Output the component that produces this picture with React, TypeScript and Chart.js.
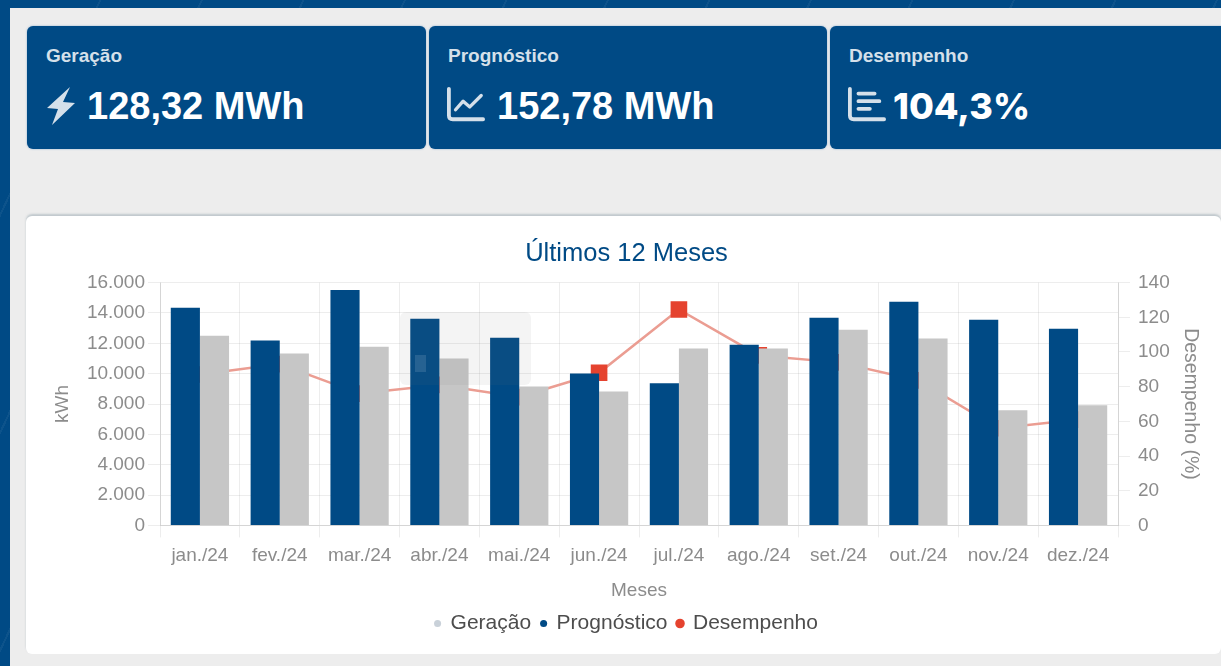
import React, { useEffect, useRef } from "react";
import { Chart, registerables } from "chart.js";

Chart.register(...registerables);

const categories = ["jan./24", "fev./24", "mar./24", "abr./24", "mai./24", "jun./24", "jul./24", "ago./24", "set./24", "out./24", "nov./24", "dez./24"];
const geracao = [12500, 11320, 11780, 11000, 9160, 8830, 11650, 11650, 12900, 12310, 7590, 7910];
const prognostico = [14340, 12180, 15520, 13620, 12370, 10010, 9360, 11900, 13680, 14730, 13550, 12960];
const desempenho = [87, 93, 76, 81, 74, 88, 124.5, 98, 94, 83.6, 56, 61];
const cards = [
  { label: "Geração", value: "128,32 MWh", icon: "bolt" },
  { label: "Prognóstico", value: "152,78 MWh", icon: "line" },
  { label: "Desempenho", value: "104,3%", icon: "bars" },
];

const BLUE = "#004a85";
const GREY = "#c6c6c6";
const RED = "#e5432f";
const TICK = "#8c8c8c";
const SANS = "'Liberation Sans', Arial, sans-serif";

function Icon({ kind }: { kind: string }) {
  const c = "#d5e0ea";
  if (kind === "bolt") {
    return (
      <svg width="32" height="40" viewBox="0 0 32 40" style={{ display: "block" }}>
        <path d="M25 1 L2 22 L13 23 L7 39 L30 17 L18 16 Z" fill={c} />
      </svg>
    );
  }
  if (kind === "line") {
    return (
      <svg width="38" height="38" viewBox="0 0 40 38" style={{ display: "block" }}>
        <path d="M2 2 V30 Q2 34 6 34 H38" fill="none" stroke={c} strokeWidth="4" strokeLinecap="round" />
        <path d="M9 24 L17 15 L24 21 L36 9" fill="none" stroke={c} strokeWidth="3.5" strokeLinecap="round" strokeLinejoin="round" />
      </svg>
    );
  }
  return (
    <svg width="38" height="38" viewBox="0 0 40 38" style={{ display: "block" }}>
      <path d="M2 2 V30 Q2 34 6 34 H38" fill="none" stroke={c} strokeWidth="4" strokeLinecap="round" />
      <path d="M11 7 H28 M11 15 H33 M11 23 H23" fill="none" stroke={c} strokeWidth="4" strokeLinecap="round" />
    </svg>
  );
}

export default function App() {
  const ref = useRef<HTMLCanvasElement | null>(null);

  useEffect(() => {
    document.body.style.margin = "0";
    const chart = new Chart(ref.current!, {
      type: "bar",
      data: {
        labels: categories,
        datasets: [
          { label: "Geração", data: geracao, backgroundColor: GREY, order: 1, yAxisID: "y", categoryPercentage: 0.73, barPercentage: 1 },
          { label: "Prognóstico", data: prognostico, backgroundColor: BLUE, order: 0, yAxisID: "y", categoryPercentage: 0.73, barPercentage: 1 },
          {
            type: "line",
            label: "Desempenho",
            data: desempenho,
            borderColor: "#eb9d92",
            backgroundColor: RED,
            pointBackgroundColor: RED,
            pointBorderColor: RED,
            borderWidth: 2.5,
            pointStyle: "rect",
            pointRadius: 10,
            tension: 0,
            order: 2,
            yAxisID: "y1",
          },
        ] as any,
      },
      options: {
        animation: false,
        responsive: false,
        layout: { padding: { top: 12, bottom: 10, left: 21, right: 15 } },
        plugins: {
          title: { display: true, text: "Últimos 12 Meses", color: BLUE, font: { family: SANS, size: 25.5, weight: "normal" }, padding: { top: 11, bottom: 13 } },
          tooltip: { enabled: false },
          legend: {
            position: "bottom",
            labels: {
              usePointStyle: true,
              pointStyle: "circle",
              boxHeight: 5,
              boxWidth: 5,
              padding: 10,
              color: "#4d4d4d",
              font: { family: SANS, size: 21 },
              generateLabels: (c: any) =>
                Chart.defaults.plugins.legend.labels.generateLabels(c).map((it: any) =>
                  it.text === "Geração" ? { ...it, fillStyle: "#c9d1d9", strokeStyle: "#c9d1d9" } : it
                ),
              sort: (a: any, b: any) => a.datasetIndex - b.datasetIndex,
            },
          },
        },
        scales: {
          x: {
            grid: { color: "rgba(0,0,0,0.07)", tickLength: 12 },
            ticks: { color: TICK, font: { family: SANS, size: 19 }, maxRotation: 0, autoSkip: false, padding: 7 },
            title: { display: true, text: "Meses", color: TICK, font: { family: SANS, size: 19 }, padding: { top: 5, bottom: 1 } },
          },
          y: {
            position: "left",
            min: 0,
            max: 16000,
            grid: { color: "rgba(0,0,0,0.07)", tickLength: 12 },
            ticks: { stepSize: 2000, color: TICK, font: { family: SANS, size: 19 }, callback: (v: any) => Number(v).toLocaleString("pt-BR") },
            title: { display: true, text: "kWh", color: TICK, font: { family: SANS, size: 19 } },
            afterFit: (s: any) => { s.width = 113; },
          },
          y1: {
            position: "right",
            min: 0,
            max: 140,
            grid: { drawOnChartArea: false, color: "rgba(0,0,0,0.07)", tickLength: 12 },
            ticks: { stepSize: 20, color: TICK, font: { family: SANS, size: 19 }, padding: 8 },
            title: { display: true, text: "Desempenho (%)", color: TICK, font: { family: SANS, size: 19.5 } },
            afterFit: (s: any) => { s.width = 88; },
          },
        },
      },
    });
    return () => chart.destroy();
  }, []);

  const stripes = "repeating-linear-gradient(115deg, rgba(255,255,255,0) 0 90px, rgba(255,255,255,0.05) 90px 92px)";

  return (
    <div style={{ position: "relative", width: 1221, height: 666, overflow: "hidden", background: BLUE, backgroundImage: stripes, fontFamily: SANS }}>
      <div style={{ position: "absolute", left: 10, top: 8, width: 1211, height: 658, background: "#ededed" }} />
      {cards.map((c, i) => {
        const lefts = [27, 429, 830];
        const widths = [399, 398, 400];
        const valueLefts = [60, 68, 63];
        const isPct = c.icon === "bars";
        return (
          <div key={c.label} style={{ position: "absolute", left: lefts[i], top: 26, width: widths[i], height: 123, background: BLUE, borderRadius: 6, color: "#fff", boxShadow: "0 0 2px rgba(90,140,190,0.7)" }}>
            <div style={{ position: "absolute", left: 19, top: 18, fontSize: 19, lineHeight: "24px", fontWeight: 700, color: "#d5e0ea" }}>{c.label}</div>
            <div style={{ position: "absolute", left: 18, top: 60 }}><Icon kind={c.icon} /></div>
            <div style={{
              position: "absolute",
              left: valueLefts[i],
              top: 57,
              lineHeight: "46px",
              fontWeight: isPct ? 800 : 700,
              whiteSpace: "nowrap",
              fontSize: isPct ? 36 : 38,
              fontFamily: isPct ? "Inter, sans-serif" : SANS,
            }}>{c.value}</div>
          </div>
        );
      })}
      <div style={{ position: "absolute", left: 26, top: 216, width: 1195, height: 438, background: "#fff", borderRadius: 6, boxShadow: "0 -2px 2px rgba(150,165,175,0.5)" }}>
        <canvas ref={ref} width={1195} height={438} style={{ display: "block", filter: "blur(0.5px)" }} />
      </div>
      <div style={{ position: "absolute", left: 400, top: 312, width: 131, height: 73, borderRadius: 6, background: "rgba(110,110,110,0.08)" }} />
      <div style={{ position: "absolute", left: 415, top: 355, width: 11, height: 17, background: "rgba(255,255,255,0.12)" }} />
    </div>
  );
}
